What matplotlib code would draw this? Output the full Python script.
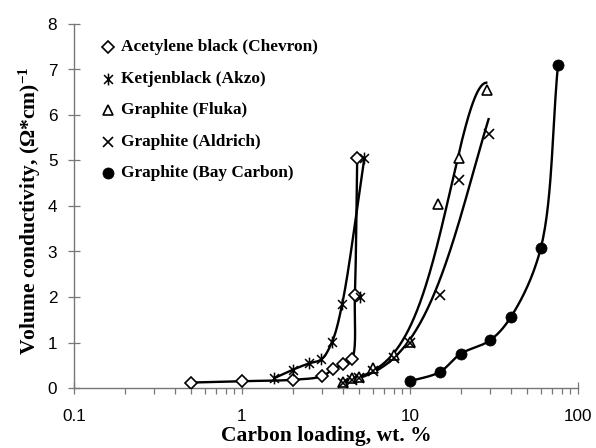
import numpy as np
import matplotlib
matplotlib.use("Agg")
import matplotlib.pyplot as plt
from matplotlib.path import Path
from matplotlib.ticker import FixedLocator, NullFormatter, LogLocator

plt.rcParams["mathtext.fontset"] = "custom"
plt.rcParams["mathtext.rm"] = "Liberation Serif:bold"
plt.rcParams["mathtext.bf"] = "Liberation Serif:bold"
plt.rcParams["mathtext.it"] = "Liberation Serif:bold"

# ---- data: carbon loading (wt. %) vs. volume conductivity ((Ohm*cm)^-1) ----
acetylene_x = [0.5, 1.0, 2.0, 3.0, 3.5, 4.0, 4.5, 4.7, 4.85]
acetylene_y = [0.12, 0.15, 0.18, 0.26, 0.42, 0.52, 0.63, 2.04, 5.05]

ketjen_x = [1.54, 2.0, 2.5, 2.97, 3.44, 3.95, 5.07, 5.35]
ketjen_y = [0.21, 0.40, 0.54, 0.63, 1.02, 1.85, 1.99, 5.05]
ketjen_on_curve = [True, True, True, True, True, True, False, True]

fluka_x = [4.0, 4.5, 5.0, 6.0, 8.0, 10.0, 14.7, 19.6, 28.9]
fluka_y = [0.14, 0.21, 0.25, 0.45, 0.72, 1.02, 4.04, 5.05, 6.56]

aldrich_x = [4.0, 4.5, 5.0, 6.0, 8.0, 10.0, 15.0, 19.6, 29.5]
aldrich_y = [0.12, 0.18, 0.22, 0.38, 0.65, 0.98, 2.04, 4.57, 5.58]

bay_x = [10.0, 15.0, 20.0, 30.0, 40.0, 60.0, 76.0]
bay_y = [0.15, 0.35, 0.75, 1.05, 1.57, 3.07, 7.10]

series_labels = ["Acetylene black (Chevron)", "Ketjenblack (Akzo)",
                 "Graphite (Fluka)", "Graphite (Aldrich)",
                 "Graphite (Bay Carbon)"]

x_ticks = [0.1, 1, 10, 100]
x_tick_labels = ["0.1", "1", "10", "100"]
y_ticks = [0, 1, 2, 3, 4, 5, 6, 7, 8]

# relative screen size of one decade vs. one conductivity unit
DECADE_TO_UNIT = 3.7


def smooth_through(xs, ys, mask=None, n=30):
    """Centripetal Catmull-Rom curve through the selected points (log x)."""
    if mask is not None:
        xs = [x for x, m in zip(xs, mask) if m]
        ys = [y for y, m in zip(ys, mask) if m]
    P = np.column_stack([np.log10(xs) * DECADE_TO_UNIT, ys])
    P = np.vstack([2 * P[0] - P[1], P, 2 * P[-1] - P[-2]])
    out = []
    for i in range(len(P) - 3):
        p0, p1, p2, p3 = P[i], P[i + 1], P[i + 2], P[i + 3]
        t0 = 0.0
        t1 = t0 + np.linalg.norm(p1 - p0) ** 0.5
        t2 = t1 + np.linalg.norm(p2 - p1) ** 0.5
        t3 = t2 + np.linalg.norm(p3 - p2) ** 0.5
        t = np.linspace(t1, t2, n)[:, None]
        a1 = (t1 - t) / (t1 - t0) * p0 + (t - t0) / (t1 - t0) * p1
        a2 = (t2 - t) / (t2 - t1) * p1 + (t - t1) / (t2 - t1) * p2
        a3 = (t3 - t) / (t3 - t2) * p2 + (t - t2) / (t3 - t2) * p3
        b1 = (t2 - t) / (t2 - t0) * a1 + (t - t0) / (t2 - t0) * a2
        b2 = (t3 - t) / (t3 - t1) * a2 + (t - t1) / (t3 - t1) * a3
        out.append((t2 - t) / (t2 - t1) * b1 + (t - t1) / (t2 - t1) * b2)
    C = np.vstack(out)
    return 10 ** (C[:, 0] / DECADE_TO_UNIT), C[:, 1]


def log_trend(xs, ys, deg=3, n=200):
    """Cubic least-squares fit of ln(y) against log10(x)."""
    u = np.log10(xs)
    c = np.polyfit(u, np.log(ys), deg)
    uu = np.linspace(u.min(), u.max(), n)
    return 10 ** uu, np.exp(np.polyval(c, uu))


# Ketjenblack marker: an "x" with a vertical bar
ketjen_marker = Path([(0, -1), (0, 1), (-0.75, -0.75), (0.75, 0.75),
                      (-0.75, 0.75), (0.75, -0.75)],
                     [Path.MOVETO, Path.LINETO, Path.MOVETO, Path.LINETO,
                      Path.MOVETO, Path.LINETO])

fig = plt.figure(figsize=(5.96, 4.48), dpi=100)
ax = fig.add_axes([74 / 596, 60 / 448, 504 / 596, 364 / 448])

styles = [
    dict(marker="D", ms=6, mfc="white", mec="black", mew=1.2),
    dict(marker=ketjen_marker, ms=8.5, mfc="none", mec="black", mew=1.1),
    dict(marker="^", ms=7, mfc="white", mec="black", mew=1.2),
    dict(marker="x", ms=6.5, mec="black", mew=1.2),
    dict(marker="o", ms=8, mfc="black", mec="black", mew=0.5),
]

lw = 1.7
curves = [
    smooth_through(acetylene_x, acetylene_y),
    smooth_through(ketjen_x, ketjen_y, ketjen_on_curve),
    log_trend(fluka_x, fluka_y),
    log_trend(aldrich_x, aldrich_y),
    smooth_through(bay_x, bay_y),
]
all_x = [acetylene_x, ketjen_x, fluka_x, aldrich_x, bay_x]
all_y = [acetylene_y, ketjen_y, fluka_y, aldrich_y, bay_y]
for (cx, cy), xs, ys, st in zip(curves, all_x, all_y, styles):
    ax.plot(cx, cy, color="black", lw=lw, solid_capstyle="butt")
    ax.plot(xs, ys, ls="none", zorder=3, **st)

# legend entries: marker + bold serif text
row_y = [0.938, 0.849, 0.764, 0.676, 0.591]
for yy, lab, st in zip(row_y, series_labels, styles):
    ax.plot([0.0675], [yy], transform=ax.transAxes, ls="none",
            clip_on=False, **st)
    ax.text(0.093, yy, lab, transform=ax.transAxes, va="center", ha="left",
            fontsize=12.4, fontweight="bold", family="Liberation Serif")

ax.set_xscale("log")
ax.set_xlim(0.1, 100)
ax.set_ylim(0, 8)
ax.xaxis.set_major_locator(FixedLocator(x_ticks))
ax.set_xticklabels(x_tick_labels)
ax.xaxis.set_minor_locator(LogLocator(base=10, subs=np.arange(2, 10)))
ax.xaxis.set_minor_formatter(NullFormatter())
ax.set_yticks(y_ticks)

for s in ["top", "right"]:
    ax.spines[s].set_visible(False)
for s in ["left", "bottom"]:
    ax.spines[s].set_color("#777777")
    ax.spines[s].set_linewidth(1.0)

ax.tick_params(axis="both", which="major", direction="inout", length=8,
               width=0.9, color="#777777", labelsize=12.3)
ax.tick_params(axis="x", which="major", pad=11)
ax.tick_params(axis="y", which="major", pad=8)
ax.tick_params(axis="x", which="minor", direction="out", length=4,
               width=0.9, color="#777777")
for lab in ax.get_xticklabels() + ax.get_yticklabels():
    lab.set_family("Liberation Sans")

ax.set_xlabel("Carbon loading, wt. %", fontsize=15.5, fontweight="bold",
              family="Liberation Serif")
ax.set_ylabel(r"Volume conductivity, ($\Omega$*cm)$^{-1}$", fontsize=15.5,
              fontweight="bold", family="Liberation Serif")
ax.xaxis.set_label_coords(0.5, -0.105)
ax.yaxis.set_label_coords(-0.061, 0.488)

fig.savefig("out.png", dpi=100)
